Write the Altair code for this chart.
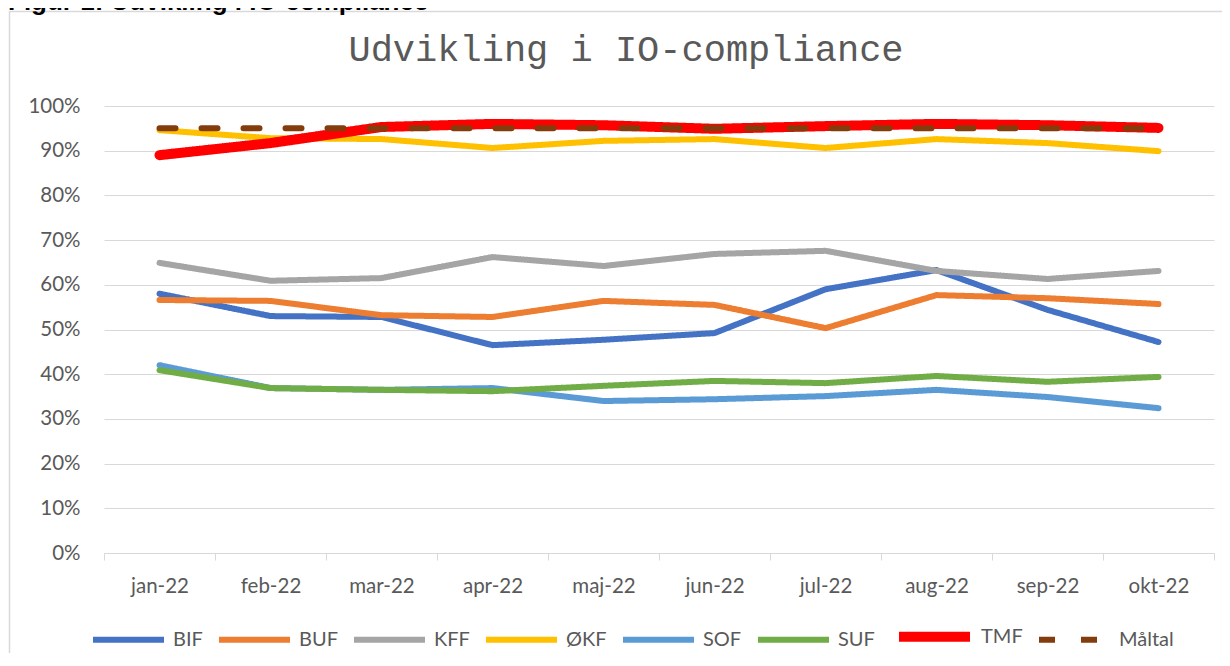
import altair as alt
import pandas as pd

months = ["jan-22", "feb-22", "mar-22", "apr-22", "maj-22",
          "jun-22", "jul-22", "aug-22", "sep-22", "okt-22"]
series = ["BIF", "BUF", "KFF", "ØKF", "SOF", "SUF", "TMF", "Måltal"]

bif = [0.580, 0.530, 0.528, 0.465, 0.477, 0.492, 0.590, 0.633, 0.544, 0.472]
buf = [0.566, 0.564, 0.532, 0.528, 0.564, 0.555, 0.503, 0.577, 0.570, 0.557]
kff = [0.649, 0.609, 0.615, 0.662, 0.642, 0.669, 0.676, 0.631, 0.613, 0.631]
okf = [0.946, 0.928, 0.926, 0.906, 0.922, 0.926, 0.906, 0.926, 0.917, 0.899]
sof = [0.420, 0.369, 0.365, 0.369, 0.340, 0.344, 0.351, 0.365, 0.349, 0.324]
suf = [0.409, 0.369, 0.365, 0.362, 0.374, 0.385, 0.380, 0.396, 0.383, 0.394]
tmf = [0.890, 0.917, 0.953, 0.960, 0.957, 0.949, 0.955, 0.960, 0.957, 0.951]
maltal = [0.95, 0.95, 0.95, 0.95, 0.95, 0.95, 0.95, 0.95, 0.95, 0.95]

colors = ["#4472C4", "#ED7D31", "#A5A5A5", "#FFC000",
          "#5B9BD5", "#70AD47", "#FF0000", "#843C0C"]
widths = [6, 6, 6, 6, 6, 6, 10, 6]
dashes = [[1, 0], [1, 0], [1, 0], [1, 0], [1, 0], [1, 0], [1, 0], [16, 26]]

title_text = "Udvikling i IO-compliance"
header_text = "Figur 1: Udvikling i IO-compliance"

values = [bif, buf, kff, okf, sof, suf, tmf, maltal]
rows = []
for s, vals in zip(series, values):
    for m, v in zip(months, vals):
        rows.append({"serie": s, "maaned": m, "andel": v})
df = pd.DataFrame(rows)

FONT = "Lato"
GREY = "#595959"


def legend():
    return alt.Legend(title=None, orient="none", legendX=-14, legendY=490,
                      direction="horizontal",
                      symbolType="stroke", symbolSize=5041,
                      labelFont=FONT, labelFontSize=20, labelColor=GREY,
                      labelOffset=6, columnPadding=4)


lines = alt.Chart(df).mark_line(strokeCap="round", strokeJoin="round").encode(
    x=alt.X("maaned:N", sort=months, bandPosition=0.5,
            scale=alt.Scale(type="band", paddingInner=0, paddingOuter=0),
            axis=alt.Axis(title=None, labelAngle=0, grid=False, tickBand="extent",
                          domainColor="#D9D9D9", tickColor="#D9D9D9", tickSize=7,
                          labelBaseline="alphabetic", labelPadding=32,
                          labelFont=FONT, labelFontSize=20.5, labelColor=GREY)),
    y=alt.Y("andel:Q", scale=alt.Scale(domain=[0, 1], nice=False),
            axis=alt.Axis(title=None, format=".0%", values=[i / 10 for i in range(11)],
                          domain=False, ticks=False, gridColor="#D9D9D9", gridWidth=1,
                          labelPadding=24, labelFont=FONT, labelFontSize=20.5,
                          labelColor=GREY)),
    color=alt.Color("serie:O", sort=series,
                    scale=alt.Scale(type="ordinal", domain=series, range=colors),
                    legend=legend()),
    strokeWidth=alt.StrokeWidth("serie:O", sort=series,
                                scale=alt.Scale(type="ordinal", domain=series,
                                                range=widths),
                                legend=legend()),
    strokeDash=alt.StrokeDash("serie:O", sort=series,
                              scale=alt.Scale(type="ordinal", domain=series,
                                              range=dashes),
                              legend=legend()),
)

one = pd.DataFrame({"t": [title_text], "h": [header_text]})

frame = alt.Chart(one).mark_rect(fill=None, stroke="#D9D9D9", strokeWidth=1.5).encode(
    x=alt.value(-94.5), x2=alt.value(1400), y=alt.value(-94.5), y2=alt.value(800)
)

title = alt.Chart(one).mark_text(font="Liberation Mono", fontSize=37, color=GREY,
                                 align="center", baseline="alphabetic").encode(
    text="t:N", x=alt.value(522), y=alt.value(-45)
)

header = alt.Chart(one).mark_text(font="Liberation Sans", fontSize=26, fontWeight="bold",
                                  color="#000000", align="left",
                                  baseline="alphabetic").encode(
    text="h:N", x=alt.value(-96), y=alt.value(-96)
)

chart = alt.layer(frame, header, title, lines).properties(
    width=1110, height=447,
    autosize=alt.AutoSizeParams(type="none"),
    padding={"left": 96, "top": 98, "right": 8, "bottom": 100},
).configure_view(stroke=None)

chart.save("out.html", embed_options={"renderer": "svg", "actions": False})
